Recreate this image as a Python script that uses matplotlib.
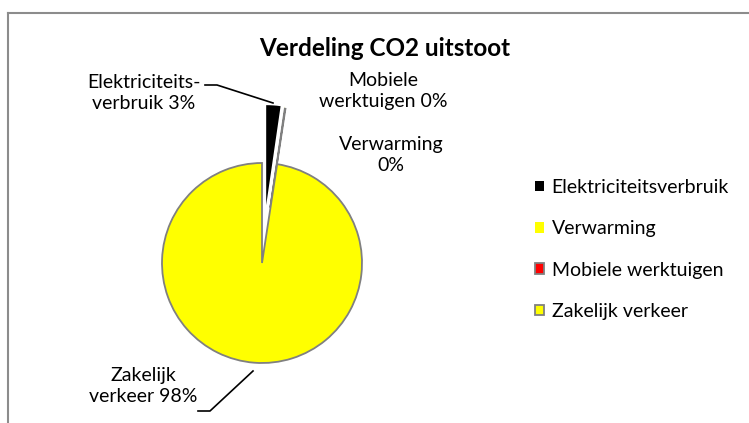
import matplotlib.pyplot as plt

plt.rcParams['font.family'] = ['Lato', 'DejaVu Sans']

# aandeel CO2 uitstoot per bron (%)
bronnen = ['Elektriciteitsverbruik', 'Verwarming', 'Mobiele werktuigen', 'Zakelijk verkeer']
aandeel = [2.3, 0.02, 0.1, 97.58]
pct_labels = ['3%', '0%', '0%', '98%']
kleuren = ['#000000', '#ffff00', '#ff0000', '#ffff00']
randen = ['none', 'none', '#808080', '#808080']

W, H = 749, 423
fig = plt.figure(figsize=(W / 100, H / 100), dpi=100)
ax = fig.add_axes([0, 0, 1, 1])

def py(y):
    # pixel y (van boven) naar data y
    return H - y

wedges, _ = ax.pie(aandeel, colors=kleuren, startangle=90, counterclock=False,
                   explode=[58, 58, 56, 0], radius=100, center=(262, py(263)),
                   frame=True)
for w, rc in zip(wedges, randen):
    w.set_edgecolor(rc)
    w.set_linewidth(1.3 if rc != 'none' else 0)
ax.set_xlim(0, W)
ax.set_ylim(0, H)
ax.set_aspect('equal')
ax.axis('off')

fs = 14
ax.text(385, py(48), 'Verdeling CO2 uitstoot', ha='center', va='center',
        fontsize=17.5, fontweight='bold')

ax.text(144, py(93), 'Elektriciteits-\nverbruik ' + pct_labels[0], ha='center',
        va='center', fontsize=fs, linespacing=1.25)
ax.text(383, py(91), 'Mobiele\nwerktuigen ' + pct_labels[2], ha='center',
        va='center', fontsize=fs, linespacing=1.25)
ax.text(391, py(155), 'Verwarming\n' + pct_labels[1], ha='center',
        va='center', fontsize=fs, linespacing=1.25)
ax.text(143, py(386), 'Zakelijk\nverkeer ' + pct_labels[3], ha='center',
        va='center', fontsize=fs, linespacing=1.25)

# leader lines
ax.plot([205, 217, 273], [py(85), py(85), py(103)], color='black', lw=1.2)
ax.plot([198, 210, 253], [py(411), py(411), py(371)], color='black', lw=1.2)

# chart frame (only top and left visible)
ax.plot([7.5, W], [py(12.5), py(12.5)], color='#8c8c8c', lw=1.5, clip_on=False)
ax.plot([7.5, 7.5], [py(12.5), 0], color='#8c8c8c', lw=1.5, clip_on=False)

ax.legend(wedges, bronnen, loc='upper left', bbox_to_anchor=(535 / W, 1 - 179 / H),
          frameon=False, fontsize=fs, handlelength=0.45, handleheight=0.45,
          handletextpad=0.4, labelspacing=1.25, borderaxespad=0, borderpad=0)

fig.savefig('out.png', dpi=100)
